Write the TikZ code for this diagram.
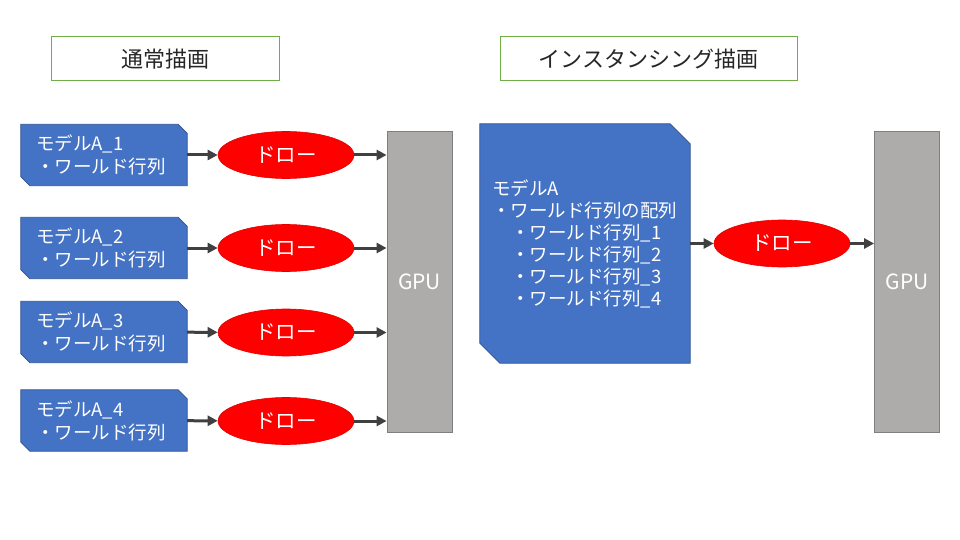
\documentclass[tikz,border=0pt]{standalone}
\usepackage{fontspec}
\setmainfont{Noto Sans CJK JP}
\usetikzlibrary{arrows.meta,backgrounds,shapes.geometric}
\definecolor{mblue}{HTML}{4472C4}
\definecolor{mblueb}{HTML}{2F528F}
\definecolor{gpugray}{HTML}{AEABAB}
\definecolor{gpub}{HTML}{7F7F7F}
\definecolor{arr}{HTML}{404040}
\definecolor{tgreen}{HTML}{70AD47}
\newcommand\chamf[2]{\fill[mblue, draw=mblueb, line width=0.8pt] (#1.north west) -- ([xshift=-#2pt]#1.north east) -- ([yshift=-#2pt]#1.north east) -- (#1.south east) -- ([xshift=#2pt]#1.south west) -- ([yshift=#2pt]#1.south west) -- cycle;}
\tikzset{
  titlebox/.style={draw=tgreen, line width=1pt, minimum height=44pt, inner sep=0pt, text=black!85, font=\fontsize{22}{26}\selectfont},
  modelbox/.style={inner xsep=15pt, inner ysep=0pt, minimum width=166pt, minimum height=61pt, text width=136pt, align=left, text=white, font=\fontsize{18.5}{23}\selectfont},
  bigbox/.style={inner xsep=12pt, inner ysep=0pt, minimum width=210pt, minimum height=239pt, text width=186pt, align=left, text=white, font=\fontsize{18.5}{22}\selectfont},
  drawell/.style={ellipse, fill=red, draw=red!90!black, line width=0.6pt, minimum width=136pt, minimum height=47pt, inner sep=0pt, text=white, font=\fontsize{20.5}{24}\selectfont},
  gpubox/.style={fill=gpugray, draw=gpub, line width=0.8pt, minimum width=65pt, minimum height=301pt, inner sep=0pt, text=white, font=\fontsize{21}{25}\selectfont},
  conn/.style={draw=arr, line width=3pt, -{Triangle[length=10pt,width=10pt]}}
}
\begin{document}
\begin{tikzpicture}[x=1pt,y=-1pt]
\useasboundingbox (0,0) rectangle (960,540);

% titles
\node[titlebox, minimum width=228pt] (t1) at (165,59) {通常描画};
\node[titlebox, minimum width=297pt] (t2) at (648.5,59) {インスタンシング描画};

% left: models
\node[modelbox] (m1) at (104,155) {モデルA\_1\\・ワールド行列};
\node[modelbox] (m2) at (104,248) {モデルA\_2\\・ワールド行列};
\node[modelbox] (m3) at (104,332) {モデルA\_3\\・ワールド行列};
\node[modelbox] (m4) at (104,420.5) {モデルA\_4\\・ワールド行列};

\node[drawell] (d1) at (286,155) {ドロー};
\node[drawell] (d2) at (286,248) {ドロー};
\node[drawell] (d3) at (286,332.5) {ドロー};
\node[drawell] (d4) at (286,421) {ドロー};

\node[gpubox] (g1) at (419.5,281.5) {GPU};

% right
\node[bigbox] (mb) at (585,243.5) {モデルA\\・ワールド行列の配列\\\hspace*{1.05em}・ワールド行列\_1\\\hspace*{1.05em}・ワールド行列\_2\\\hspace*{1.05em}・ワールド行列\_3\\\hspace*{1.05em}・ワールド行列\_4};
\node[drawell] (d5) at (782,243.5) {ドロー};
\node[gpubox] (g2) at (907,282) {GPU};

\begin{pgfonlayer}{background}
\chamf{m1}{9}
\chamf{m2}{9}
\chamf{m3}{9}
\chamf{m4}{9}
\chamf{mb}{20}
\end{pgfonlayer}

% connectors
\draw[conn] (m1) -- (d1);
\draw[conn] (m2) -- (d2);
\draw[conn] (m3) -- (d3);
\draw[conn] (m4) -- (d4);
\draw[conn] (d1.east) -- (d1.east -| g1.west);
\draw[conn] (d2.east) -- (d2.east -| g1.west);
\draw[conn] (d3.east) -- (d3.east -| g1.west);
\draw[conn] (d4.east) -- (d4.east -| g1.west);
\draw[conn] (mb.east |- d5) -- (d5);
\draw[conn] (d5.east) -- (d5.east -| g2.west);
\end{tikzpicture}
\end{document}
